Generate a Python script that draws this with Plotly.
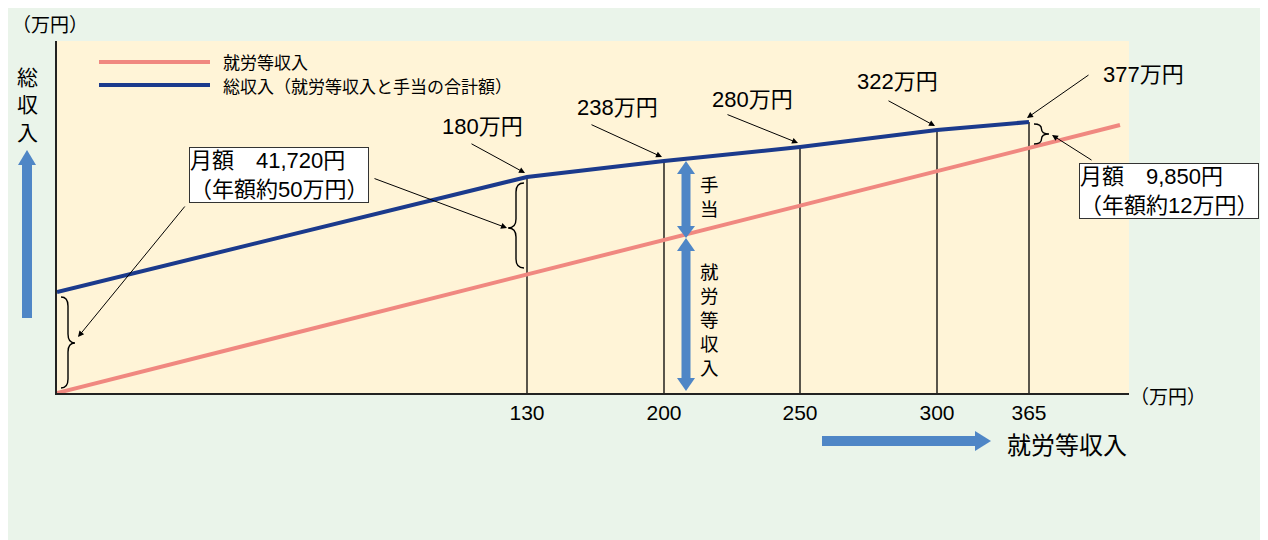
import plotly.graph_objects as go

# ---- data (schematic chart) ----
income_ticks = ["130", "200", "250", "300", "365"]          # 就労等収入 (万円)
total_labels = ["180万円", "238万円", "280万円", "322万円", "377万円"]  # 総収入
# schematic positions of income points 0,130,200,250,300,365 on the drawing
x_pos = [0, 470, 607, 743, 880, 972]
# schematic heights of total income line at those points
total_y = [101, 216, 232, 246, 263, 271]
# earned income line (straight)
earned_x = [0, 1063]
earned_y = [0, 268]

# page offset of the figure inside the browser (body margin)
OFF = 8
FIG_W, FIG_H = 1268 - OFF, 540 - OFF
L, T, W, H = 57, 41, 1072, 352          # plot area in screen pixels
BOT = T + H
def PX(px): return (px - L) / W
def PY(py): return (BOT - py) / H

FONT = "Noto Sans CJK JP"
MIX = "Liberation Sans, Arial, Noto Sans CJK JP"
NAVY = "#1B3A8C"
PINK = "#F08880"
ARROWBLUE = "#4F86C6"

fig = go.Figure()

# vertical guide lines
vx, vy = [], []
for xp, yv in zip(x_pos[1:], total_y[1:]):
    vx += [xp, xp, None]
    vy += [0, yv, None]
fig.add_trace(go.Scatter(x=vx, y=vy, mode="lines", line=dict(color="black", width=1.3),
                         hoverinfo="skip", showlegend=False))
fig.add_trace(go.Scatter(x=earned_x, y=earned_y, mode="lines", line=dict(color=PINK, width=4),
                         name="就労等収入", showlegend=False))
fig.add_trace(go.Scatter(x=x_pos, y=total_y, mode="lines", line=dict(color=NAVY, width=4),
                         name="総収入", showlegend=False))

shapes = []
annots = []

# legend
shapes.append(dict(type="line", xref="paper", yref="paper", x0=PX(99), x1=PX(210), y0=PY(62), y1=PY(62),
                   line=dict(color=PINK, width=4)))
shapes.append(dict(type="line", xref="paper", yref="paper", x0=PX(99), x1=PX(210), y0=PY(85), y1=PY(85),
                   line=dict(color=NAVY, width=4)))
annots.append(dict(xref="paper", yref="paper", x=PX(221), y=PY(61.5), text="就労等収入", showarrow=False,
                   xanchor="left", yanchor="middle", font=dict(size=17, family=FONT, color="black")))
annots.append(dict(xref="paper", yref="paper", x=PX(221), y=PY(85.5), text="総収入（就労等収入と手当の合計額）",
                   showarrow=False, xanchor="left", yanchor="middle", font=dict(size=17, family=FONT, color="black")))

# braces
def brace_shape(x0, x1, y0, y1, ym, r=8):
    x0, x1 = x0 - L, x1 - L
    y0, y1, ym = BOT - y0, BOT - y1, BOT - ym
    xm = (x0 + x1) / 2
    d = (f"M {x0},{y0} Q {xm},{y0} {xm},{y0-r} L {xm},{ym+r} Q {xm},{ym} {x1},{ym} "
         f"Q {xm},{ym} {xm},{ym-r} L {xm},{y1+r} Q {xm},{y1} {x0},{y1}")
    return dict(type="path", xref="x", yref="y", path=d, line=dict(color="black", width=1.4))

shapes.append(brace_shape(61, 75, 297, 388, 343, r=9))
shapes.append(brace_shape(524, 508, 183, 268, 228, r=9))
shapes.append(brace_shape(1034, 1049, 124, 144, 134, r=5))

# blue double arrows (手当 / 就労等収入)
def vshaft(x, ytop, ybot, w=9):
    return dict(type="rect", xref="paper", yref="paper", x0=PX(x - w / 2), x1=PX(x + w / 2),
                y0=PY(ybot), y1=PY(ytop), fillcolor=ARROWBLUE, line_width=0)

def tri(p1, p2, p3):
    d = "M " + " L ".join(f"{PX(a)},{PY(b)}" for a, b in (p1, p2, p3)) + " Z"
    return dict(type="path", xref="paper", yref="paper", path=d, fillcolor=ARROWBLUE, line_width=0)

ax_ = 686
shapes.append(vshaft(ax_, 170, 229))
shapes.append(tri((ax_ - 9, 174), (ax_ + 9, 174), (ax_, 161)))
shapes.append(tri((ax_ - 9, 226), (ax_ + 9, 226), (ax_, 238)))
shapes.append(vshaft(ax_, 245, 380))
shapes.append(tri((ax_ - 9, 251), (ax_ + 9, 251), (ax_, 238)))
shapes.append(tri((ax_ - 9, 378), (ax_ + 9, 378), (ax_, 391)))

# y-axis blue arrow
shapes.append(vshaft(27, 162, 318, w=10))
shapes.append(tri((18, 165), (36, 165), (27, 150)))
# x-axis blue arrow
shapes.append(dict(type="rect", xref="paper", yref="paper", x0=PX(822), x1=PX(978), y0=PY(446), y1=PY(436),
                   fillcolor=ARROWBLUE, line_width=0))
shapes.append(tri((975, 431), (975, 451), (991, 441)))

# texts
def txt(x, y, s, size=19, xa="center", ya="middle", fam=FONT, **kw):
    annots.append(dict(xref="paper", yref="paper", x=PX(x), y=PY(y), text=s, showarrow=False,
                       xanchor=xa, yanchor=ya, font=dict(size=size, family=fam, color="black"), **kw))

def vtext(x, yc, s, size):
    txt(x, yc, "<br>".join(s), size=size)

txt(50, 24, "（万円）", size=19)
txt(1168, 395, "（万円）", size=19)
vtext(27, 103, "総収入", 21)
txt(1067, 443, "就労等収入", size=24)
vtext(709, 196, "手当", 18.5)
vtext(709, 319, "就労等収入", 18.5)

# value labels with arrows
label_pos = [(482, 126), (617, 107), (752, 99), (897, 81), (1143, 74)]
arrow_tail = [(470, 143), (590, 124), (726, 114), (887, 100), (1090, 74)]
for i, (lab, (lx, ly), (tx, ty)) in enumerate(zip(total_labels, label_pos, arrow_tail)):
    txt(lx, ly, lab, size=22, fam=MIX)
    hx = L + x_pos[i + 1] - 2
    hy = BOT - total_y[i + 1] - 4
    annots.append(dict(xref="paper", yref="paper", x=PX(hx), y=PY(hy), ax=tx - hx, ay=ty - hy,
                       text="", showarrow=True, arrowhead=2, arrowsize=1.2, arrowwidth=1,
                       arrowcolor="black"))

# boxes
annots.append(dict(xref="paper", yref="paper", x=PX(279), y=PY(175), text="月額　41,720円<br>（年額約50万円）",
                   showarrow=False, xanchor="center", yanchor="middle", align="left",
                   font=dict(size=22, family=MIX, color="black"), bgcolor="white",
                   bordercolor="#333333", borderwidth=1, borderpad=0))
annots.append(dict(xref="paper", yref="paper", x=PX(1169), y=PY(191), text="月額　9,850円<br>（年額約12万円）",
                   showarrow=False, xanchor="center", yanchor="middle", align="left",
                   font=dict(size=22, family=MIX, color="black"), bgcolor="white",
                   bordercolor="#333333", borderwidth=1, borderpad=0))

def arrow(tail, head):
    annots.append(dict(xref="paper", yref="paper", x=PX(head[0]), y=PY(head[1]),
                       ax=tail[0] - head[0], ay=tail[1] - head[1], text="", showarrow=True,
                       arrowhead=2, arrowsize=1.2, arrowwidth=1, arrowcolor="black"))

arrow((186, 205), (78, 337))
arrow((373, 178), (507, 228))
arrow((1093, 161), (1052, 135))

fig.update_layout(
    width=FIG_W, height=FIG_H,
    margin=dict(l=L - OFF, r=FIG_W - (L - OFF) - W, t=T - OFF, b=FIG_H - (T - OFF) - H, pad=0),
    paper_bgcolor="#EAF4EA",
    plot_bgcolor="#FFF4D7",
    shapes=shapes, annotations=annots,
    showlegend=False,
    xaxis=dict(range=[0, W], showgrid=False, zeroline=False, showline=True, linecolor="#222222",
               linewidth=2, tickvals=x_pos[1:], ticktext=income_ticks, ticks="",
               tickfont=dict(size=21, family=MIX, color="black"), fixedrange=True),
    yaxis=dict(range=[0, H], showgrid=False, zeroline=False, showline=True, linecolor="#222222",
               linewidth=2, showticklabels=False, ticks="", fixedrange=True),
    font=dict(family=FONT),
)

fig.write_html("out.html")
